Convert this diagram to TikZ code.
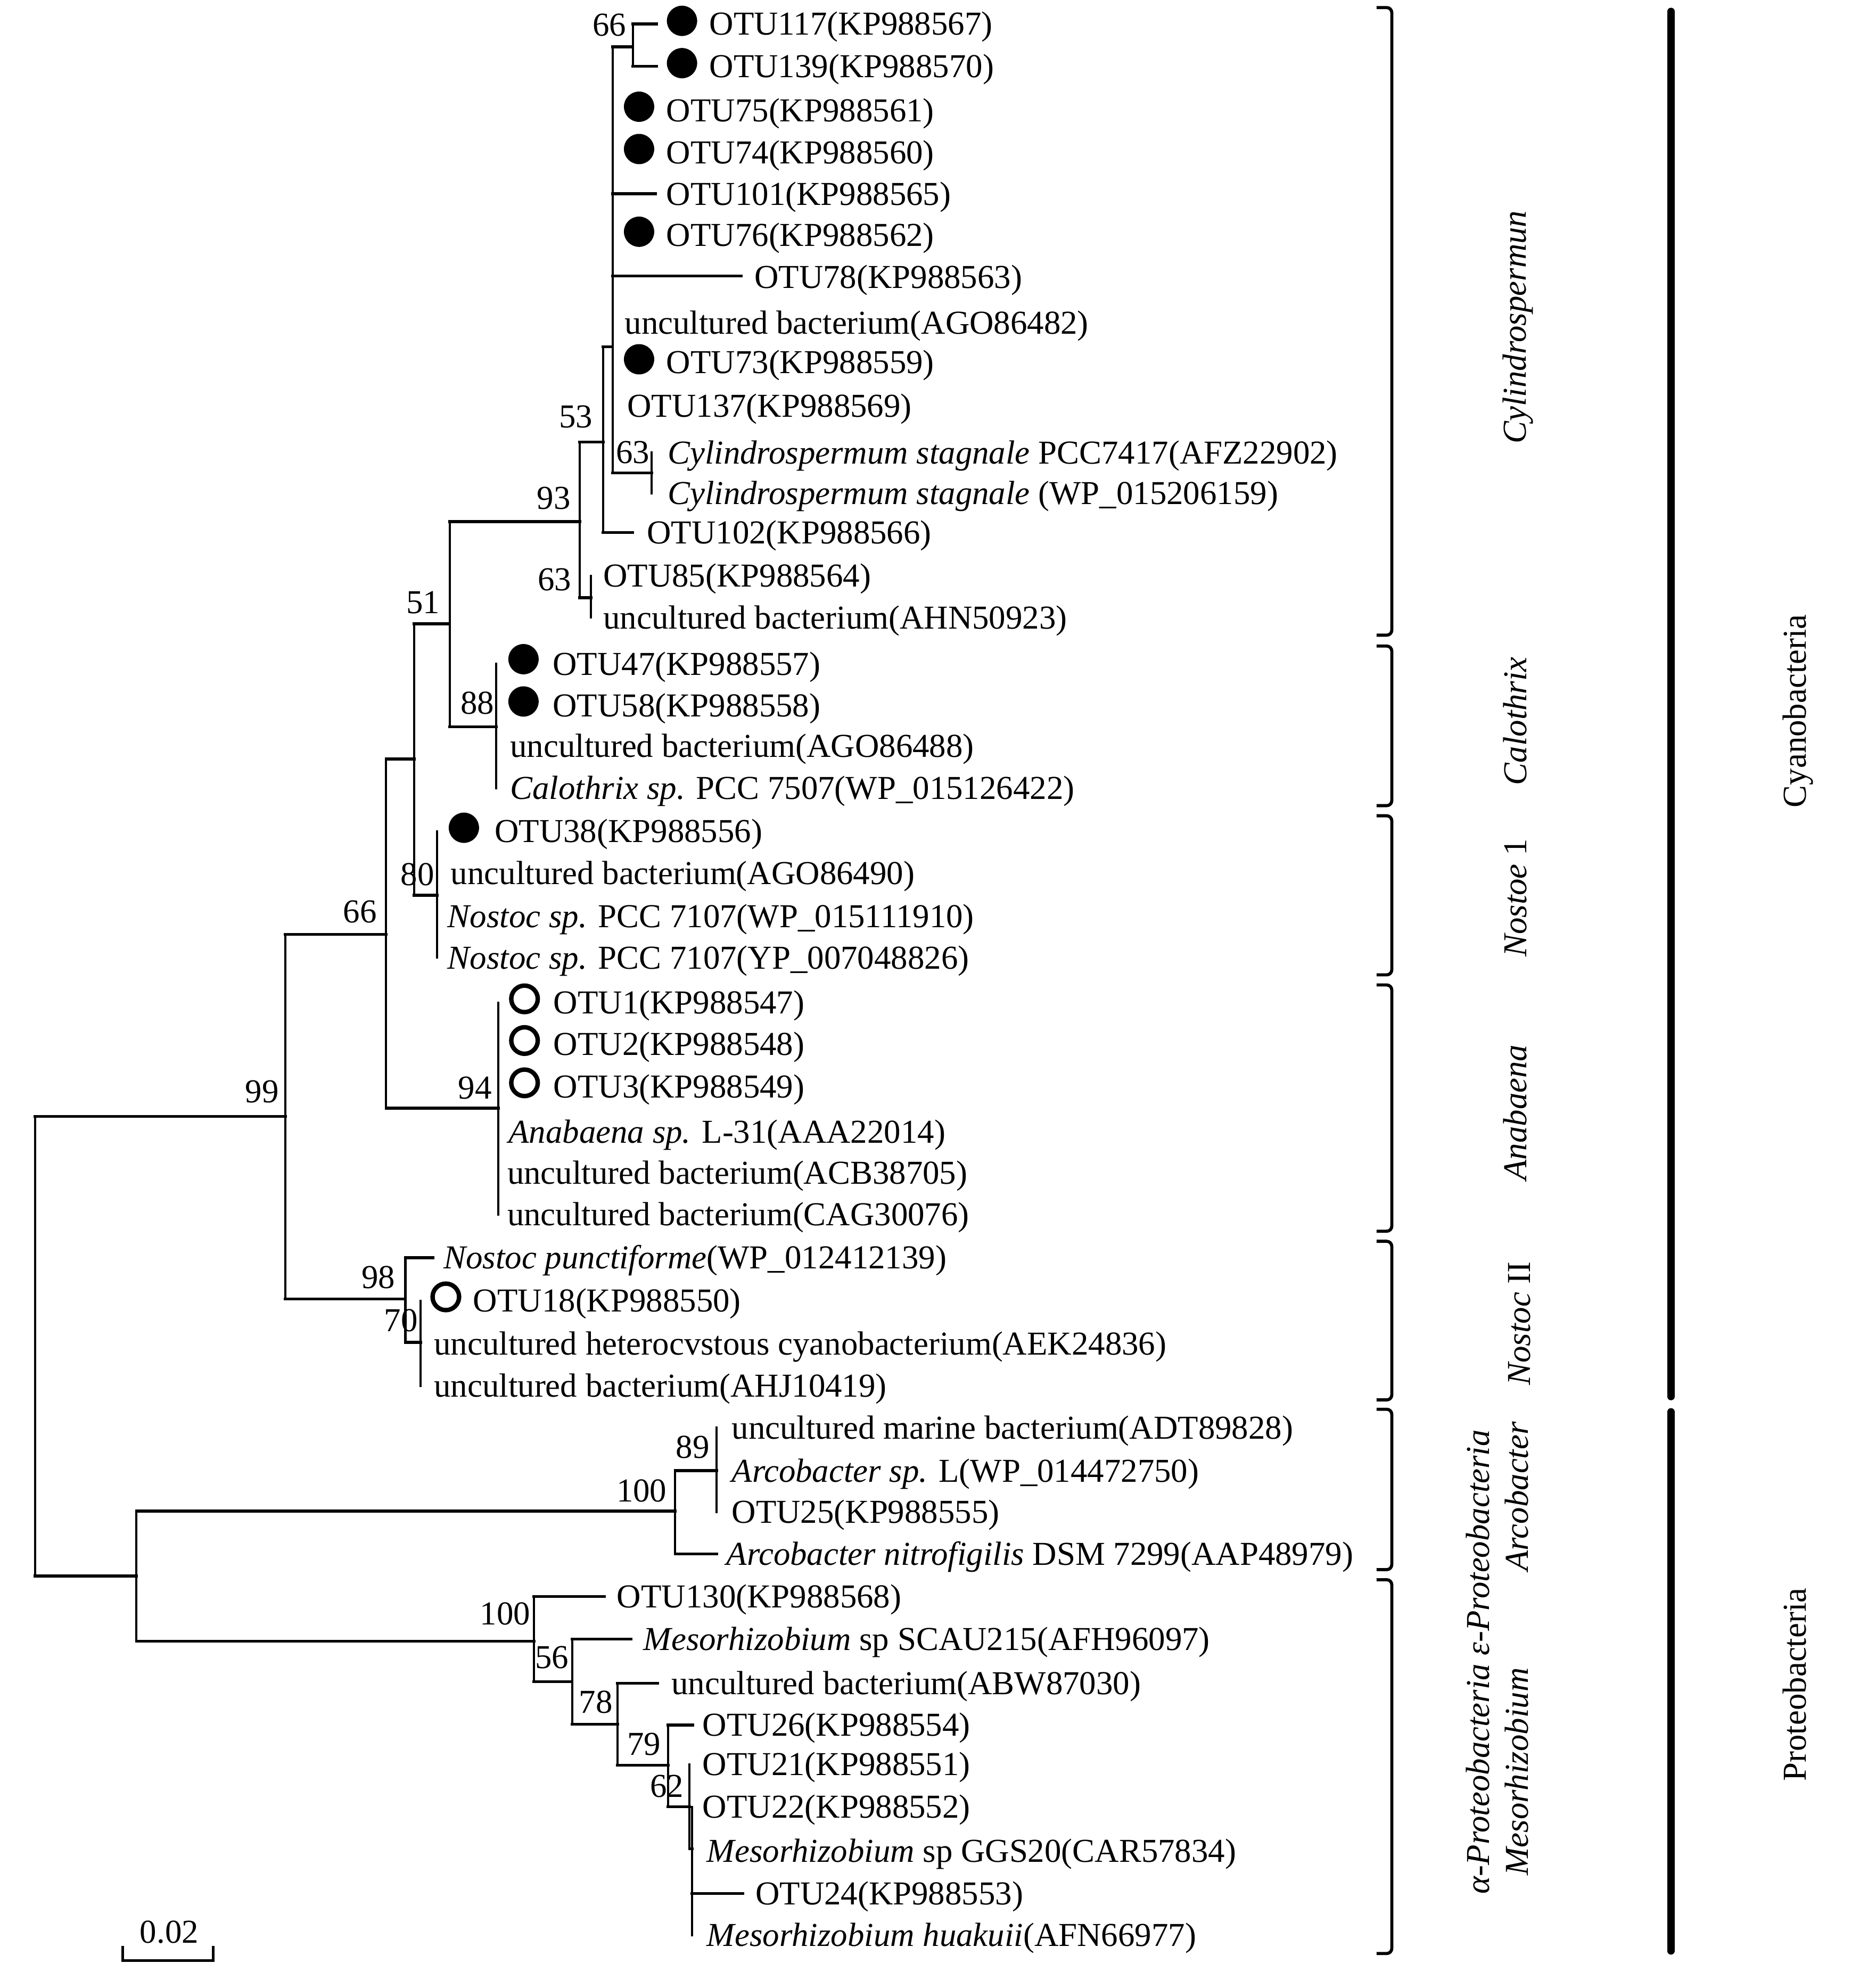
\documentclass[tikz,border=0pt]{standalone}
\usepackage{fontspec}
\setmainfont{Liberation Serif}
\begin{document}
\begin{tikzpicture}[x=0.1mm,y=-0.1mm,
  hb/.style={line width=0.65pt, line cap=rect},
  vb/.style={line width=0.5pt, line cap=rect},
  tx/.style={anchor=west, inner sep=0pt, text height=5pt, text depth=0pt, font=\fontsize{7.54}{9}\selectfont},
  bs/.style={anchor=center, inner sep=0pt, text height=5pt, text depth=0pt, font=\fontsize{7.54}{9}\selectfont},
  rl/.style={bs, rotate=90},
  fdot/.style={circle, fill=black, inner sep=0pt, minimum size=2.4mm},
  odot/.style={circle, draw=black, line width=1pt, inner sep=0pt, minimum size=2.1mm},
  bk/.style={line width=0.7pt, rounded corners=0.4mm},
  thk/.style={line width=1.65pt, line cap=round}]
\fill[white] (0,0) rectangle (1485,1568);
\useasboundingbox (0,0) rectangle (1485,1568);

% ---------- internal nodes ----------
\coordinate (root) at (27.8,1066);
\coordinate (n99) at (226,884);
\coordinate (nP) at (108,1248);
\coordinate (n66) at (305.7,740);
\coordinate (n98) at (321,1028.6);
\coordinate (nU) at (328,601);
\coordinate (n94) at (394.5,877.6);
\coordinate (n51) at (356,494);
\coordinate (n80) at (346,709);
\coordinate (n93) at (459,413);
\coordinate (n88) at (393,575.6);
\coordinate (n53) at (477.5,350);
\coordinate (n63b) at (468,473.3);
\coordinate (nP1) at (485,274.6);
\coordinate (n66t) at (501,37);
\coordinate (n63a) at (516,374.5);
\coordinate (n70) at (333,1063);
\coordinate (n100a) at (534.6,1196.7);
\coordinate (n89) at (567.5,1164.6);
\coordinate (n100b) at (422.8,1299.6);
\coordinate (n56) at (453,1331.8);
\coordinate (n78) at (489,1365.4);
\coordinate (n79) at (529,1398);
\coordinate (n62) at (546,1430.7);
\coordinate (nY) at (548,1464);

% ---------- branch tips ----------
\coordinate (t1) at (520,19);
\coordinate (t2) at (520,52.5);
\coordinate (t5) at (519,153.5);
\coordinate (t7) at (587,218.5);
\coordinate (t13) at (501,421.8);
\coordinate (t30) at (343,996);
\coordinate (t37) at (567.5,1230.5);
\coordinate (t38) at (478.7,1264.3);
\coordinate (t39) at (499.7,1298);
\coordinate (t40) at (520.6,1333);
\coordinate (t41) at (548.6,1366);
\coordinate (t45) at (588,1499.6);

% ---------- leaf labels ----------
\node[tx] (L1) at (561,19) {OTU117(KP988567)};
\node[tx] (L2) at (561,52.5) {OTU139(KP988570)};
\node[tx] (L3) at (527,87.7) {OTU75(KP988561)};
\node[tx] (L4) at (527,120.8) {OTU74(KP988560)};
\node[tx] (L5) at (527,153.5) {OTU101(KP988565)};
\node[tx] (L6) at (527,186.2) {OTU76(KP988562)};
\node[tx] (L7) at (596.7,219.4) {OTU78(KP988563)};
\node[tx] (L8) at (494,255.5) {uncultured bacterium(AGO86482)};
\node[tx] (L9) at (527,287) {OTU73(KP988559)};
\node[tx] (L10) at (496,321.5) {OTU137(KP988569)};
\node[tx] (L11) at (528,358.4) {\textit{Cylindrospermum stagnale} PCC7417(AFZ22902)};
\node[tx] (L12) at (528,390.7) {\textit{Cylindrospermum stagnale} (WP\_015206159)};
\node[tx] (L13) at (511.6,421.8) {OTU102(KP988566)};
\node[tx] (L14) at (477,455.9) {OTU85(KP988564)};
\node[tx] (L15) at (477,489) {uncultured bacterium(AHN50923)};
\node[tx] (L16) at (437,525.8) {OTU47(KP988557)};
\node[tx] (L17) at (437,558.7) {OTU58(KP988558)};
\node[tx] (L18) at (403.3,591) {uncultured bacterium(AGO86488)};
\node[tx] (L19) at (403.3,624) {\textit{Calothrix sp.} PCC 7507(WP\_015126422)};
\node[tx] (L20) at (391,658.3) {OTU38(KP988556)};
\node[tx] (L21) at (356.3,691.7) {uncultured bacterium(AGO86490)};
\node[tx] (L22) at (353.7,725.5) {\textit{Nostoc sp.} PCC 7107(WP\_015111910)};
\node[tx] (L23) at (353.7,758.4) {\textit{Nostoc sp.} PCC 7107(YP\_007048826)};
\node[tx] (L24) at (437.6,794) {OTU1(KP988547)};
\node[tx] (L25) at (437.6,827) {OTU2(KP988548)};
\node[tx] (L26) at (437.6,860.7) {OTU3(KP988549)};
\node[tx] (L27) at (402,896.4) {\textit{Anabaena sp.} L-31(AAA22014)};
\node[tx] (L28) at (401,929) {uncultured bacterium(ACB38705)};
\node[tx] (L29) at (401,961.8) {uncultured bacterium(CAG30076)};
\node[tx] (L30) at (350.6,996) {\textit{Nostoc punctiforme}(WP\_012412139)};
\node[tx] (L31) at (374,1030) {OTU18(KP988550)};
\node[tx] (L32) at (343,1064) {uncultured heterocvstous cyanobacterium(AEK24836)};
\node[tx] (L33) at (343,1097.6) {uncultured bacterium(AHJ10419)};
\node[tx] (L34) at (578.7,1130.7) {uncultured marine bacterium(ADT89828)};
\node[tx] (L35) at (578.7,1165) {\textit{Arcobacter sp.} L(WP\_014472750)};
\node[tx] (L36) at (578.7,1197.3) {OTU25(KP988555)};
\node[tx] (L37) at (574.5,1230.5) {\textit{Arcobacter nitrofigilis} DSM 7299(AAP48979)};
\node[tx] (L38) at (487.8,1264.3) {OTU130(KP988568)};
\node[tx] (L39) at (508.8,1298) {\textit{Mesorhizobium} sp SCAU215(AFH96097)};
\node[tx] (L40) at (531,1333) {uncultured bacterium(ABW87030)};
\node[tx] (L41) at (555.6,1366) {OTU26(KP988554)};
\node[tx] (L42) at (555.6,1397.3) {OTU21(KP988551)};
\node[tx] (L43) at (555.6,1431) {OTU22(KP988552)};
\node[tx] (L44) at (559,1465.9) {\textit{Mesorhizobium} sp GGS20(CAR57834)};
\node[tx] (L45) at (597.5,1499.6) {OTU24(KP988553)};
\node[tx] (L46) at (559,1532.5) {\textit{Mesorhizobium huakuii}(AFN66977)};

% ---------- markers ----------
\node[fdot] (d1) at (540,16.5) {};
\node[fdot] (d2) at (540,50) {};
\node[fdot] (d3) at (506,84.5) {};
\node[fdot] (d4) at (506,118) {};
\node[fdot] (d6) at (506,183.5) {};
\node[fdot] (d9) at (506,284.5) {};
\node[fdot] (d16) at (414.5,522) {};
\node[fdot] (d17) at (414.5,555.5) {};
\node[fdot] (d20) at (367.3,655.5) {};
\node[odot] (c24) at (415.3,791) {};
\node[odot] (c25) at (415.3,824) {};
\node[odot] (c26) at (415.3,857.5) {};
\node[odot] (c31) at (353,1027) {};

% ---------- branches ----------
% root
\draw[vb] (root |- n99) -- (root |- nP);
\draw[hb] (root |- n99) -- (n99);
\draw[hb] (root |- nP) -- (nP);
% n99
\draw[vb] (n99 |- n66) -- (n99 |- n98);
\draw[hb] (n99 |- n66) -- (n66);
\draw[hb] (n99 |- n98) -- (n98);
% n66
\draw[vb] (n66 |- nU) -- (n66 |- n94);
\draw[hb] (n66 |- nU) -- (nU);
\draw[hb] (n66 |- n94) -- (n94);
% nU
\draw[vb] (nU |- n51) -- (nU |- n80);
\draw[hb] (nU |- n51) -- (n51);
\draw[hb] (nU |- n80) -- (n80);
% n51
\draw[vb] (n51 |- n93) -- (n51 |- n88);
\draw[hb] (n51 |- n93) -- (n93);
\draw[hb] (n51 |- n88) -- (n88);
% n93
\draw[vb] (n93 |- n53) -- (n93 |- n63b);
\draw[hb] (n93 |- n53) -- (n53);
\draw[hb] (n93 |- n63b) -- (n63b);
% n53
\draw[vb] (n53 |- nP1) -- (n53 |- t13);
\draw[hb] (n53 |- nP1) -- (nP1);
\draw[hb] (n53 |- t13) -- (t13);
% nP1
\draw[vb] (nP1 |- n66t) -- (nP1 |- n63a);
\draw[hb] (nP1 |- n66t) -- (n66t);
\draw[hb] (nP1 |- t5) -- (t5);
\draw[hb] (nP1 |- t7) -- (t7);
\draw[hb] (nP1 |- n63a) -- (n63a);
% n66t
\draw[vb] (n66t |- t1) -- (n66t |- t2);
\draw[hb] (n66t |- t1) -- (t1);
\draw[hb] (n66t |- t2) -- (t2);
% n63a
\draw[vb] (n63a |- L11.west) -- (n63a |- L12.west);
% n63b
\draw[vb] (n63b |- L14.west) -- (n63b |- L15.west);
% n88
\draw[vb] (n88 |- L16.west) -- (n88 |- L19.west);
% n80
\draw[vb] (n80 |- L20.west) -- (n80 |- L23.west);
% n94
\draw[vb] (n94 |- L24.west) -- (n94 |- L29.west);
% n98
\draw[vb] (n98 |- t30) -- (n98 |- n70);
\draw[hb] (n98 |- t30) -- (t30);
\draw[hb] (n98 |- n70) -- (n70);
% n70
\draw[vb] (n70 |- L31.west) -- (n70 |- L33.west);
% nP
\draw[vb] (nP |- n100a) -- (nP |- n100b);
\draw[hb] (nP |- n100a) -- (n100a);
\draw[hb] (nP |- n100b) -- (n100b);
% n100a
\draw[vb] (n100a |- n89) -- (n100a |- t37);
\draw[hb] (n100a |- n89) -- (n89);
\draw[hb] (n100a |- t37) -- (t37);
% n89
\draw[vb] (n89 |- L34.west) -- (n89 |- L36.west);
% n100b
\draw[vb] (n100b |- t38) -- (n100b |- n56);
\draw[hb] (n100b |- t38) -- (t38);
\draw[hb] (n100b |- n56) -- (n56);
% n56
\draw[vb] (n56 |- t39) -- (n56 |- n78);
\draw[hb] (n56 |- t39) -- (t39);
\draw[hb] (n56 |- n78) -- (n78);
% n78
\draw[vb] (n78 |- t40) -- (n78 |- n79);
\draw[hb] (n78 |- t40) -- (t40);
\draw[hb] (n78 |- n79) -- (n79);
% n79
\draw[vb] (n79 |- t41) -- (n79 |- n62);
\draw[hb] (n79 |- t41) -- (t41);
\draw[hb] (n79 |- n62) -- (n62);
% n62
\draw[vb] (n62 |- L42.west) -- (n62 |- nY);
\draw[hb] (n62 |- nY) -- (nY);
% nY
\draw[vb] (nY |- L43.west) -- (nY |- L46.west);
\draw[hb] (nY |- t45) -- (t45);

% ---------- bootstrap values ----------
\node[bs] (b66a) at (482.5,19.5) {66};
\node[bs] (b53) at (456,330) {53};
\node[bs] (b63a) at (501,358) {63};
\node[bs] (b93) at (438.5,394.5) {93};
\node[bs] (b63b) at (439,459) {63};
\node[bs] (b51) at (335,477) {51};
\node[bs] (b88) at (378,556.5) {88};
\node[bs] (b80) at (330.5,692.5) {80};
\node[bs] (b66b) at (285,722) {66};
\node[bs] (b94) at (376,861.5) {94};
\node[bs] (b99) at (207.5,864.5) {99};
\node[bs] (b98) at (299.5,1011.5) {98};
\node[bs] (b70) at (317.5,1045.5) {70};
\node[bs] (b89) at (548.5,1146) {89};
\node[bs] (b100a) at (508,1180.5) {100};
\node[bs] (b100b) at (400,1278) {100};
\node[bs] (b56) at (437,1312.5) {56};
\node[bs] (b78) at (471.7,1348) {78};
\node[bs] (b79) at (510,1381) {79};
\node[bs] (b62) at (528,1414.5) {62};

% ---------- scale bar ----------
\coordinate (sbL) at (97.2,1552.5);
\coordinate (sbR) at (168.8,1552.5);
\coordinate (sbLt) at (97.2,1541);
\coordinate (sbRt) at (168.8,1541);
\draw[line width=0.6pt] (sbLt) -- (sbL) -- (sbR) -- (sbRt);
\node[bs] (sbt) at (134,1530) {0.02};

% ---------- clade brackets ----------
\draw[bk] (1090,6) -- (1102,6) -- (1102,503) -- (1090,503);
\draw[bk] (1090,511.6) -- (1102,511.6) -- (1102,638) -- (1090,638);
\draw[bk] (1090,646) -- (1102,646) -- (1102,772) -- (1090,772);
\draw[bk] (1090,780) -- (1102,780) -- (1102,975) -- (1090,975);
\draw[bk] (1090,983) -- (1102,983) -- (1102,1108.6) -- (1090,1108.6);
\draw[bk] (1090,1116) -- (1102,1116) -- (1102,1243) -- (1090,1243);
\draw[bk] (1090,1251) -- (1102,1251) -- (1102,1547) -- (1090,1547);

\node[rl] (gCyl) at (1199.5,259) {\textit{Cylindrospermun}};
\node[rl] (gCal) at (1200,571) {\textit{Calothrix}};
\node[rl] (gNo1) at (1200,711) {\textit{Nostoe} 1};
\node[rl] (gAna) at (1200,881) {\textit{Anabaena}};
\node[rl] (gNo2) at (1203,1048) {\textit{Nostoc} II};
\node[rl] (gArc) at (1201,1185) {\textit{Arcobacter}};
\node[rl] (gMes) at (1201,1403) {\textit{Mesorhizobium}};
\node[rl] (gPro) at (1170.5,1316) {\textit{α-Proteobacteria ε-Proteobacteria}};

% ---------- phylum bars ----------
\draw[thk] (1323,9) -- (1323,1106);
\draw[thk] (1323,1118) -- (1323,1545);
\node[rl] (pCya) at (1421,563) {Cyanobacteria};
\node[rl] (pPro) at (1421,1334) {Proteobacteria};
\end{tikzpicture}
\end{document}
